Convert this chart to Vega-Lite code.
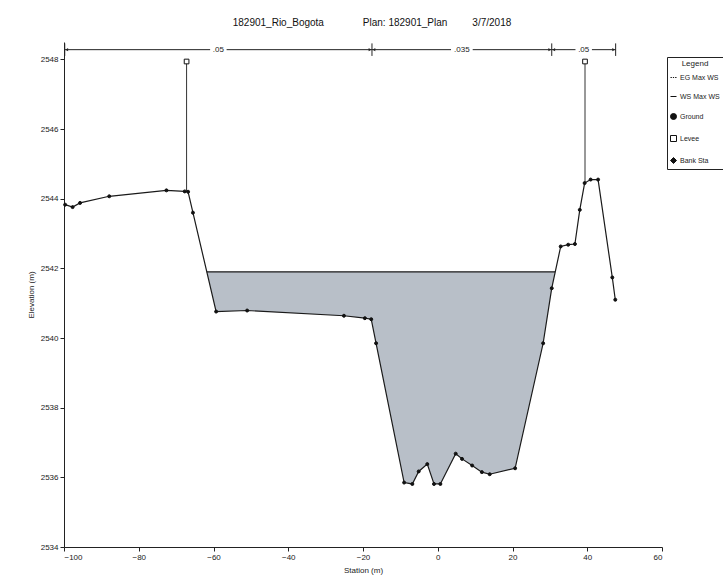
{
  "$schema": "https://vega.github.io/schema/vega-lite/v6.json",
  "width": 598,
  "height": 505,
  "autosize": "none",
  "padding": {"left": 64, "top": 42, "right": 61, "bottom": 29},
  "background": "white",
  "title": {
    "text": "182901_Rio_Bogota\u00a0\u00a0\u00a0\u00a0\u00a0\u00a0\u00a0\u00a0\u00a0\u00a0\u00a0\u00a0\u00a0\u00a0Plan: 182901_Plan\u00a0\u00a0\u00a0\u00a0\u00a0\u00a0\u00a0\u00a0\u00a03/7/2018",
    "fontSize": 10,
    "font": "Liberation Sans",
    "fontWeight": "normal",
    "color": "#111",
    "anchor": "middle",
    "dx": 9,
    "offset": 14
  },
  "datasets": {
    "ground": [
      {"station": -99.7, "elev": 2543.83, "kind": "Ground"},
      {"station": -97.7, "elev": 2543.76, "kind": "Ground"},
      {"station": -95.7, "elev": 2543.88, "kind": "Ground"},
      {"station": -87.9, "elev": 2544.07, "kind": "Ground"},
      {"station": -72.6, "elev": 2544.24, "kind": "Ground"},
      {"station": -67.7, "elev": 2544.21, "kind": "Ground"},
      {"station": -66.8, "elev": 2544.2, "kind": "Ground"},
      {"station": -65.5, "elev": 2543.6, "kind": "Ground"},
      {"station": -59.3, "elev": 2540.76, "kind": "Ground"},
      {"station": -51.0, "elev": 2540.79, "kind": "Ground"},
      {"station": -25.1, "elev": 2540.64, "kind": "Ground"},
      {"station": -19.5, "elev": 2540.57, "kind": "Ground"},
      {"station": -17.8, "elev": 2540.54, "kind": "Ground"},
      {"station": -16.5, "elev": 2539.85, "kind": "Ground"},
      {"station": -9.0, "elev": 2535.85, "kind": "Ground"},
      {"station": -6.8, "elev": 2535.81, "kind": "Ground"},
      {"station": -5.1, "elev": 2536.17, "kind": "Ground"},
      {"station": -2.8, "elev": 2536.38, "kind": "Ground"},
      {"station": -1.0, "elev": 2535.81, "kind": "Ground"},
      {"station": 0.7, "elev": 2535.81, "kind": "Ground"},
      {"station": 4.8, "elev": 2536.68, "kind": "Ground"},
      {"station": 6.5, "elev": 2536.53, "kind": "Ground"},
      {"station": 9.2, "elev": 2536.34, "kind": "Ground"},
      {"station": 11.8, "elev": 2536.15, "kind": "Ground"},
      {"station": 13.9, "elev": 2536.09, "kind": "Ground"},
      {"station": 20.7, "elev": 2536.26, "kind": "Ground"},
      {"station": 28.2, "elev": 2539.85, "kind": "Ground"},
      {"station": 30.5, "elev": 2541.43, "kind": "Ground"},
      {"station": 32.9, "elev": 2542.63, "kind": "Ground"},
      {"station": 34.9, "elev": 2542.68, "kind": "Ground"},
      {"station": 36.7, "elev": 2542.7, "kind": "Ground"},
      {"station": 38.0, "elev": 2543.68, "kind": "Ground"},
      {"station": 39.3, "elev": 2544.45, "kind": "Ground"},
      {"station": 40.9, "elev": 2544.55, "kind": "Ground"},
      {"station": 42.9, "elev": 2544.55, "kind": "Ground"},
      {"station": 46.7, "elev": 2541.74, "kind": "Ground"},
      {"station": 47.5, "elev": 2541.1, "kind": "Ground"}
    ],
    "water": [
      {"station": -61.8, "ground": 2541.9, "ws": 2541.9},
      {"station": -59.3, "ground": 2540.76, "ws": 2541.9},
      {"station": -51.0, "ground": 2540.79, "ws": 2541.9},
      {"station": -25.1, "ground": 2540.64, "ws": 2541.9},
      {"station": -19.5, "ground": 2540.57, "ws": 2541.9},
      {"station": -17.8, "ground": 2540.54, "ws": 2541.9},
      {"station": -16.5, "ground": 2539.85, "ws": 2541.9},
      {"station": -9.0, "ground": 2535.85, "ws": 2541.9},
      {"station": -6.8, "ground": 2535.81, "ws": 2541.9},
      {"station": -5.1, "ground": 2536.17, "ws": 2541.9},
      {"station": -2.8, "ground": 2536.38, "ws": 2541.9},
      {"station": -1.0, "ground": 2535.81, "ws": 2541.9},
      {"station": 0.7, "ground": 2535.81, "ws": 2541.9},
      {"station": 4.8, "ground": 2536.68, "ws": 2541.9},
      {"station": 6.5, "ground": 2536.53, "ws": 2541.9},
      {"station": 9.2, "ground": 2536.34, "ws": 2541.9},
      {"station": 11.8, "ground": 2536.15, "ws": 2541.9},
      {"station": 13.9, "ground": 2536.09, "ws": 2541.9},
      {"station": 20.7, "ground": 2536.26, "ws": 2541.9},
      {"station": 28.2, "ground": 2539.85, "ws": 2541.9},
      {"station": 30.5, "ground": 2541.43, "ws": 2541.9},
      {"station": 31.4, "ground": 2541.9, "ws": 2541.9}
    ],
    "levee": [
      {"station": -67.2, "base": 2544.2, "top": 2547.94, "kind": "Levee"},
      {"station": 39.4, "base": 2544.45, "top": 2547.94, "kind": "Levee"}
    ],
    "nseg": [
      {"from": -99.8, "to": -60.9},
      {"from": -56.5, "to": -17.6},
      {"from": -17.6, "to": 3.55},
      {"from": 9.35, "to": 30.5},
      {"from": 30.5, "to": 36.85},
      {"from": 41.25, "to": 47.6}
    ],
    "nbreak": [
      {"station": -99.8},
      {"station": -17.6},
      {"station": 30.5},
      {"station": 47.6}
    ],
    "nstart": [
      {"station": -99.8},
      {"station": -17.6},
      {"station": 30.5}
    ],
    "nend": [
      {"station": -17.6},
      {"station": 30.5},
      {"station": 47.6}
    ],
    "nlabel": [
      {"station": -58.7, "n": ".05"},
      {"station": 6.45, "n": ".035"},
      {"station": 39.05, "n": ".05"}
    ]
  },
  "layer": [
    {
      "data": {"name": "ground"},
      "mark": {"type": "line", "color": "#1a1a1a", "strokeWidth": 1.2, "opacity": 0},
      "encoding": {
        "x": {
          "field": "station",
          "type": "quantitative",
          "scale": {"domain": [-100, 60], "nice": false, "zero": false},
          "axis": {
            "title": "Station (m)",
            "values": [-100, -90, -80, -70, -60, -50, -40, -30, -20, -10, 0, 10, 20, 30, 40, 50, 60],
            "format": "d",
            "labelExpr": "datum.value % 20 === 0 ? datum.label : ''",
            "tickSize": {"condition": {"test": "datum.value % 20 === 0", "value": 4}, "value": 2.5},
            "labelOverlap": false,
            "labelPadding": 2,
            "titlePadding": 5
          }
        },
        "y": {
          "field": "elev",
          "type": "quantitative",
          "scale": {"domain": [2534, 2548.5], "nice": false, "zero": false},
          "axis": {
            "title": "Elevation (m)",
            "values": [2534, 2534.5, 2535, 2535.5, 2536, 2536.5, 2537, 2537.5, 2538, 2538.5, 2539, 2539.5, 2540, 2540.5, 2541, 2541.5, 2542, 2542.5, 2543, 2543.5, 2544, 2544.5, 2545, 2545.5, 2546, 2546.5, 2547, 2547.5, 2548],
            "format": "d",
            "labelExpr": "datum.value % 2 === 0 ? datum.label : ''",
            "tickSize": {"condition": {"test": "datum.value % 2 === 0", "value": 4}, "value": 2.5},
            "labelOverlap": false,
            "labelPadding": 2,
            "titlePadding": 5
          }
        }
      }
    },
    {
      "data": {"name": "water"},
      "mark": {"type": "area", "color": "#b8bfc8", "opacity": 1},
      "encoding": {
        "x": {"field": "station", "type": "quantitative"},
        "y": {"field": "ground", "type": "quantitative"},
        "y2": {"field": "ws"}
      }
    },
    {
      "data": {"name": "water"},
      "mark": {"type": "line", "color": "#1a1a1a", "strokeWidth": 1.3},
      "encoding": {
        "x": {"field": "station", "type": "quantitative"},
        "y": {"field": "ws", "type": "quantitative"}
      }
    },
    {
      "data": {"name": "ground"},
      "mark": {"type": "line", "color": "#1a1a1a", "strokeWidth": 1.2},
      "encoding": {
        "x": {"field": "station", "type": "quantitative"},
        "y": {"field": "elev", "type": "quantitative"}
      }
    },
    {
      "data": {"name": "levee"},
      "mark": {"type": "rule", "color": "#333", "strokeWidth": 1},
      "encoding": {
        "x": {"field": "station", "type": "quantitative"},
        "y": {"field": "base", "type": "quantitative"},
        "y2": {"field": "top"}
      }
    },
    {
      "data": {"name": "ground"},
      "mark": {"type": "point", "filled": false, "size": 9, "strokeWidth": 1, "opacity": 1},
      "encoding": {
        "x": {"field": "station", "type": "quantitative"},
        "y": {"field": "elev", "type": "quantitative"},
        "shape": {
          "field": "kind",
          "type": "nominal",
          "scale": {
            "domain": ["EG Max WS", "WS Max WS", "Ground", "Levee", "Bank Sta"],
            "range": ["M-1,0H-0.55M-0.2,0H0.2M0.55,0H1", "M-1,0H1", "circle", "square", "diamond"]
          },
          "legend": {"orient": "none", "legendX": 603, "legendY": 15, "title": "Legend"}
        },
        "fill": {
          "field": "kind",
          "type": "nominal",
          "scale": {
            "domain": ["EG Max WS", "WS Max WS", "Ground", "Levee", "Bank Sta"],
            "range": ["white", "white", "#111", "white", "#111"]
          },
          "legend": {"orient": "none", "legendX": 603, "legendY": 15, "title": "Legend"}
        },
        "stroke": {
          "field": "kind",
          "type": "nominal",
          "scale": {
            "domain": ["EG Max WS", "WS Max WS", "Ground", "Levee", "Bank Sta"],
            "range": ["#111", "#111", "#111", "#111", "#111"]
          },
          "legend": {"orient": "none", "legendX": 603, "legendY": 15, "title": "Legend"}
        }
      }
    },
    {
      "data": {"name": "levee"},
      "mark": {"type": "point", "filled": false, "size": 22, "strokeWidth": 1, "opacity": 1},
      "encoding": {
        "x": {"field": "station", "type": "quantitative"},
        "y": {"field": "top", "type": "quantitative"},
        "shape": {"field": "kind", "type": "nominal"},
        "fill": {"field": "kind", "type": "nominal"},
        "stroke": {"field": "kind", "type": "nominal"}
      }
    },
    {
      "data": {"name": "nseg"},
      "mark": {"type": "rule", "color": "#222", "strokeWidth": 1},
      "encoding": {
        "x": {"field": "from", "type": "quantitative"},
        "x2": {"field": "to"},
        "y": {"datum": 2548.28, "type": "quantitative"}
      }
    },
    {
      "data": {"name": "nbreak"},
      "mark": {"type": "rule", "color": "#222", "strokeWidth": 1},
      "encoding": {
        "x": {"field": "station", "type": "quantitative"},
        "y": {"datum": 2548.1, "type": "quantitative"},
        "y2": {"datum": 2548.46}
      }
    },
    {
      "data": {"name": "nstart"},
      "mark": {"type": "point", "shape": "triangle-left", "filled": true, "color": "#222", "size": 10, "xOffset": 2, "opacity": 1},
      "encoding": {
        "x": {"field": "station", "type": "quantitative"},
        "y": {"datum": 2548.28, "type": "quantitative"}
      }
    },
    {
      "data": {"name": "nend"},
      "mark": {"type": "point", "shape": "triangle-right", "filled": true, "color": "#222", "size": 10, "xOffset": -2, "opacity": 1},
      "encoding": {
        "x": {"field": "station", "type": "quantitative"},
        "y": {"datum": 2548.28, "type": "quantitative"}
      }
    },
    {
      "data": {"name": "nlabel"},
      "mark": {"type": "text", "fontSize": 8, "font": "Liberation Sans", "color": "#222", "baseline": "middle", "align": "center"},
      "encoding": {
        "x": {"field": "station", "type": "quantitative"},
        "y": {"datum": 2548.28, "type": "quantitative"},
        "text": {"field": "n"}
      }
    }
  ],
  "config": {
    "view": {"stroke": null},
    "font": "Liberation Sans",
    "axis": {
      "grid": false,
      "domainColor": "#222",
      "tickColor": "#222",
      "labelColor": "#222",
      "titleColor": "#222",
      "labelFont": "Liberation Sans",
      "titleFont": "Liberation Sans",
      "labelFontSize": 8,
      "titleFontSize": 8,
      "titleFontWeight": "normal"
    },
    "legend": {
      "strokeColor": "#222",
      "fillColor": "white",
      "padding": 3,
      "titleFont": "Liberation Sans",
      "labelFont": "Liberation Sans",
      "titleFontSize": 8,
      "titleFontWeight": "normal",
      "titleColor": "#222",
      "labelColor": "#222",
      "labelFontSize": 7,
      "labelOffset": 3,
      "symbolSize": 36,
      "symbolStrokeWidth": 1,
      "rowPadding": 11,
      "titleAnchor": "middle",
      "titlePadding": 6
    }
  }
}
